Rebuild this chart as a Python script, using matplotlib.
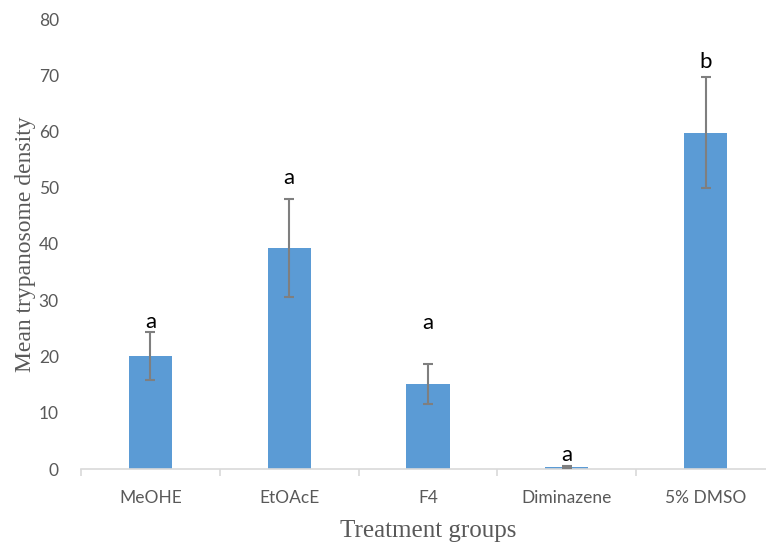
import matplotlib
matplotlib.use("Agg")
import matplotlib.pyplot as plt
import numpy as np

# Data
groups = ["MeOHE", "EtOAcE", "F4", "Diminazene", "5% DMSO"]
means = [20.1, 39.3, 15.1, 0.3, 59.8]
errors = [4.3, 8.7, 3.5, 0.2, 9.9]
letters = ["a", "a", "a", "a", "b"]
letter_y = [26.1, 51.7, 26.0, 2.5, 72.4]
yticks = [0, 10, 20, 30, 40, 50, 60, 70, 80]

W, H = 766, 546
fig = plt.figure(figsize=(W / 100, H / 100), dpi=100)
left, right, bottom, top = 81, 775, 469, 19
ax = fig.add_axes([left / W, (H - bottom) / H, (right - left) / W, (bottom - top) / H])

x = np.arange(len(groups))
ax.bar(x, means, width=0.31, color="#5B9BD5", zorder=2)
ax.errorbar(x, means, yerr=errors, fmt="none", ecolor="#7F7F7F",
            elinewidth=1.5, capsize=3.8, capthick=1.5, zorder=3)

for xi, lab, ly in zip(x, letters, letter_y):
    ax.text(xi, ly, lab, ha="center", va="center", fontsize=16,
            family="Lato", color="black", zorder=4)

ax.set_xlim(-0.5, len(groups) - 0.5)
ax.set_ylim(0, 80)
ax.set_yticks(yticks)
ax.set_yticklabels([str(v) for v in yticks])
ax.set_xticks(x)
ax.set_xticklabels(groups)
ax.set_xticks(np.arange(-0.5, len(groups), 1.0), minor=True)

for s in ["top", "right", "left"]:
    ax.spines[s].set_visible(False)
ax.spines["bottom"].set_color("#D9D9D9")
ax.spines["bottom"].set_linewidth(1.2)

ax.tick_params(axis="y", length=0, pad=16, labelsize=12.5, labelcolor="#595959")
ax.tick_params(axis="x", which="major", length=0, pad=15, labelsize=12.5,
               labelcolor="#595959")
ax.tick_params(axis="x", which="minor", length=5, width=1.2, color="#D9D9D9")
for lab in ax.get_xticklabels() + ax.get_yticklabels():
    lab.set_family("Lato")

ax.set_xlabel("Treatment groups", family="Liberation Serif", fontsize=18,
              color="#595959", labelpad=10)
ax.set_ylabel("Mean trypanosome density", family="Liberation Serif", fontsize=17,
              color="#595959", labelpad=2)

fig.savefig("out.png", dpi=100)
